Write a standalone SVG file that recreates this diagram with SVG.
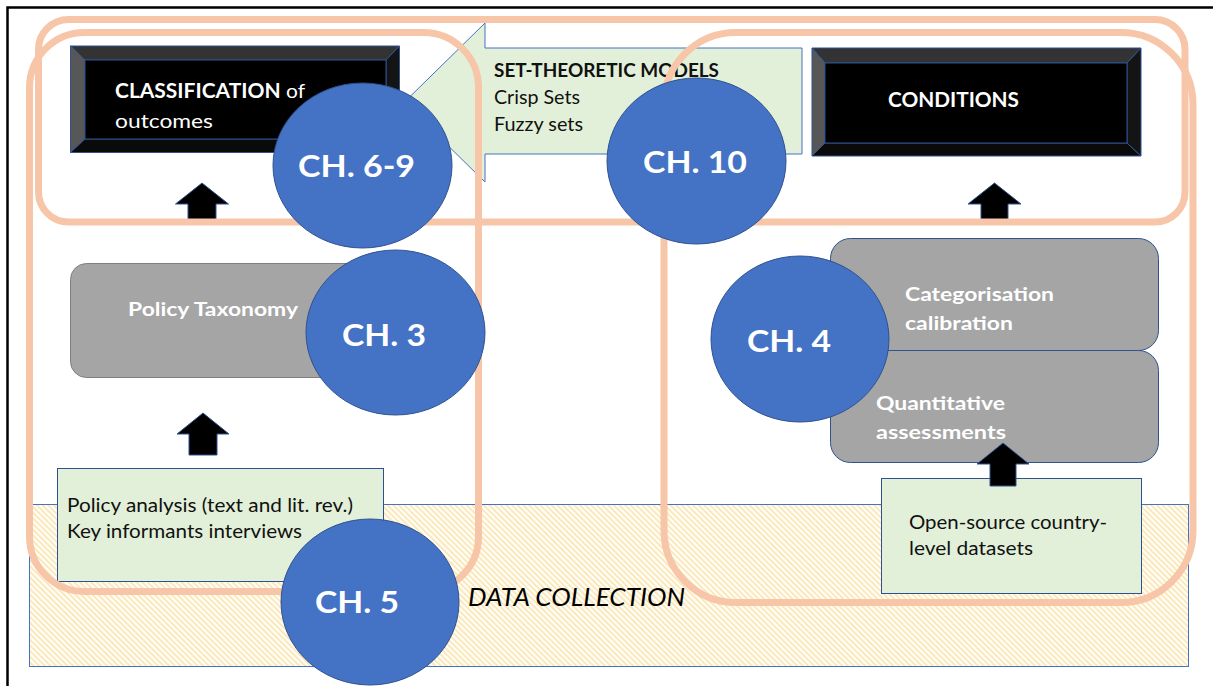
<svg xmlns="http://www.w3.org/2000/svg" width="1213" height="686" viewBox="0 0 1213 686">
  <defs>
    <style>
      text { font-family: Lato, "Open Sans", "Liberation Sans", sans-serif; }
      .frame { fill: none; stroke: #000; stroke-width: 2.5; }
      .band { fill: none; stroke: #F7C6A8; stroke-width: 7; }
      .chapter { fill: #4472C4; stroke: #2F528F; stroke-width: 1; }
      .chlabel { fill: #fff; font-weight: 700; font-size: 31px; }
      .note { fill: #E2F0D9; stroke: #2F528F; stroke-width: 1; }
      .notetext { fill: #111; font-size: 18.5px; }
      .step { fill: #A5A5A5; stroke: #2F528F; stroke-width: 1; }
      .steptext { fill: #fff; font-weight: 700; font-size: 19.5px; }
      .bevel { stroke: #2F528F; stroke-width: 1; }
      .headtext { fill: #fff; font-size: 20px; }
      .uparrow { fill: #000; stroke: #2F528F; stroke-width: 1; }
    </style>
    <pattern id="hatch" width="4" height="4" patternUnits="userSpaceOnUse" patternTransform="rotate(-45)">
      <rect width="4" height="4" fill="#FFFEF8"/>
      <rect width="1.6" height="4" fill="#FBE3AE"/>
    </pattern>
  </defs>

  <rect width="1213" height="686" fill="#fff"/>
  <rect class="frame" x="7.5" y="7.5" width="1230" height="700"/>

  <!-- data collection layer -->
  <g id="data-collection">
    <rect x="29.5" y="504.5" width="1159" height="162" fill="url(#hatch)" stroke="#4472C4" stroke-width="1"/>
    <text x="468" y="606" font-size="26" font-style="italic" fill="#000" textLength="217" lengthAdjust="spacingAndGlyphs">DATA COLLECTION</text>
  </g>

  <g id="policy-sources">
    <rect class="note" x="57.5" y="468.5" width="326" height="113"/>
    <text class="notetext" x="67" y="512" textLength="286" lengthAdjust="spacingAndGlyphs">Policy analysis (text and lit. rev.)</text>
    <text class="notetext" x="67" y="538" textLength="235" lengthAdjust="spacingAndGlyphs">Key informants interviews</text>
  </g>

  <g id="open-datasets">
    <rect class="note" x="881.5" y="478.5" width="260" height="115"/>
    <text class="notetext" x="909" y="529" textLength="198" lengthAdjust="spacingAndGlyphs">Open-source country-</text>
    <text class="notetext" x="909" y="555" textLength="124" lengthAdjust="spacingAndGlyphs">level datasets</text>
  </g>

  <g id="policy-taxonomy">
    <rect class="step" x="70.5" y="263.5" width="310" height="114" rx="16" stroke="#7F7F7F" style="stroke:#7F7F7F"/>
    <text class="steptext" x="128" y="316" textLength="170" lengthAdjust="spacingAndGlyphs">Policy Taxonomy</text>
  </g>

  <g id="categorisation">
    <rect class="step" x="830.5" y="238.5" width="328" height="112" rx="20"/>
    <text class="steptext" x="905" y="301" textLength="149" lengthAdjust="spacingAndGlyphs">Categorisation</text>
    <text class="steptext" x="905" y="330" textLength="108" lengthAdjust="spacingAndGlyphs">calibration</text>
  </g>

  <g id="quantitative">
    <rect class="step" x="830.5" y="350.5" width="328" height="112" rx="20"/>
    <text class="steptext" x="876" y="410" textLength="129" lengthAdjust="spacingAndGlyphs">Quantitative</text>
    <text class="steptext" x="876" y="439" textLength="130" lengthAdjust="spacingAndGlyphs">assessments</text>
  </g>

  <!-- bevelled title boxes -->
  <g id="classification">
    <polygon class="bevel" points="70.5,46 399.5,46 386,60 85,60" fill="#333"/>
    <polygon class="bevel" points="70.5,46 85,60 85,139 70.5,152.5" fill="#575757"/>
    <polygon class="bevel" points="70.5,152.5 85,139 386,139 399.5,152.5" fill="#0a0a0a"/>
    <polygon class="bevel" points="399.5,46 399.5,152.5 386,139 386,60" fill="#141414"/>
    <rect class="bevel" x="85" y="60" width="301" height="79" fill="#000"/>
    <text class="headtext" x="115" y="98" textLength="190" lengthAdjust="spacingAndGlyphs"><tspan font-weight="700">CLASSIFICATION</tspan> of</text>
    <text class="headtext" x="115" y="128" textLength="98" lengthAdjust="spacingAndGlyphs">outcomes</text>
  </g>

  <g id="conditions">
    <polygon class="bevel" points="812,48 1141,48 1127,63 825,63" fill="#333"/>
    <polygon class="bevel" points="812,48 825,63 825,143 812,156" fill="#575757"/>
    <polygon class="bevel" points="812,156 825,143 1127,143 1141,156" fill="#0a0a0a"/>
    <polygon class="bevel" points="1141,48 1141,156 1127,143 1127,63" fill="#141414"/>
    <rect class="bevel" x="825" y="63" width="302" height="80" fill="#000"/>
    <text class="headtext" x="888" y="107" font-weight="700" textLength="131" lengthAdjust="spacingAndGlyphs">CONDITIONS</text>
  </g>

  <g id="set-theoretic-models">
    <path d="M404,102.5 L485,23 L485,48 L802,48 L802,154 L485,154 L485,182 Z" fill="#E2F0D9" stroke="#4472C4" stroke-width="1"/>
    <text class="notetext" x="494" y="77" font-weight="700" textLength="225" lengthAdjust="spacingAndGlyphs">SET-THEORETIC MODELS</text>
    <text class="notetext" x="494" y="104" textLength="86" lengthAdjust="spacingAndGlyphs">Crisp Sets</text>
    <text class="notetext" x="494" y="131" textLength="89" lengthAdjust="spacingAndGlyphs">Fuzzy sets</text>
  </g>

  <!-- upward flow arrows -->
  <g id="connectors">
    <path class="uparrow" d="M202,183 L228.5,204 L216,204 L216,220 L188,220 L188,204 L175.5,204 Z"/>
    <path class="uparrow" d="M203,413 L229,434 L217,434 L217,455 L189,455 L189,434 L177,434 Z"/>
    <path class="uparrow" d="M994.5,183 L1021,204 L1008,204 L1008,220 L981,220 L981,204 L968,204 Z"/>
    <path class="uparrow" d="M1003,443 L1029,464 L1016,464 L1016,486 L990,486 L990,464 L977,464 Z"/>
  </g>

  <!-- chapter groupings -->
  <g id="groupings">
    <rect class="band" x="38.5" y="19.5" width="1146.5" height="202.5" rx="30"/>
    <rect class="band" x="29.5" y="32.5" width="449" height="559" rx="55"/>
    <rect class="band" x="664" y="32.5" width="529" height="570" rx="72"/>
  </g>

  <g id="ch-6-9">
    <ellipse class="chapter" cx="362.5" cy="165.5" rx="89.5" ry="82.5"/>
    <text class="chlabel" x="298" y="177" textLength="117" lengthAdjust="spacingAndGlyphs">CH. 6-9</text>
  </g>
  <g id="ch-10">
    <ellipse class="chapter" cx="696.5" cy="161" rx="89.5" ry="83"/>
    <text class="chlabel" x="643" y="173" textLength="104" lengthAdjust="spacingAndGlyphs">CH. 10</text>
  </g>
  <g id="ch-3">
    <ellipse class="chapter" cx="395.5" cy="332.5" rx="89.5" ry="82.5"/>
    <text class="chlabel" x="342" y="346" textLength="84" lengthAdjust="spacingAndGlyphs">CH. 3</text>
  </g>
  <g id="ch-4">
    <ellipse class="chapter" cx="800" cy="339" rx="89" ry="83"/>
    <text class="chlabel" x="747" y="352" textLength="84" lengthAdjust="spacingAndGlyphs">CH. 4</text>
  </g>
  <g id="ch-5">
    <ellipse class="chapter" cx="370" cy="602" rx="89" ry="83"/>
    <text class="chlabel" x="315" y="613" textLength="84" lengthAdjust="spacingAndGlyphs">CH. 5</text>
  </g>
</svg>
